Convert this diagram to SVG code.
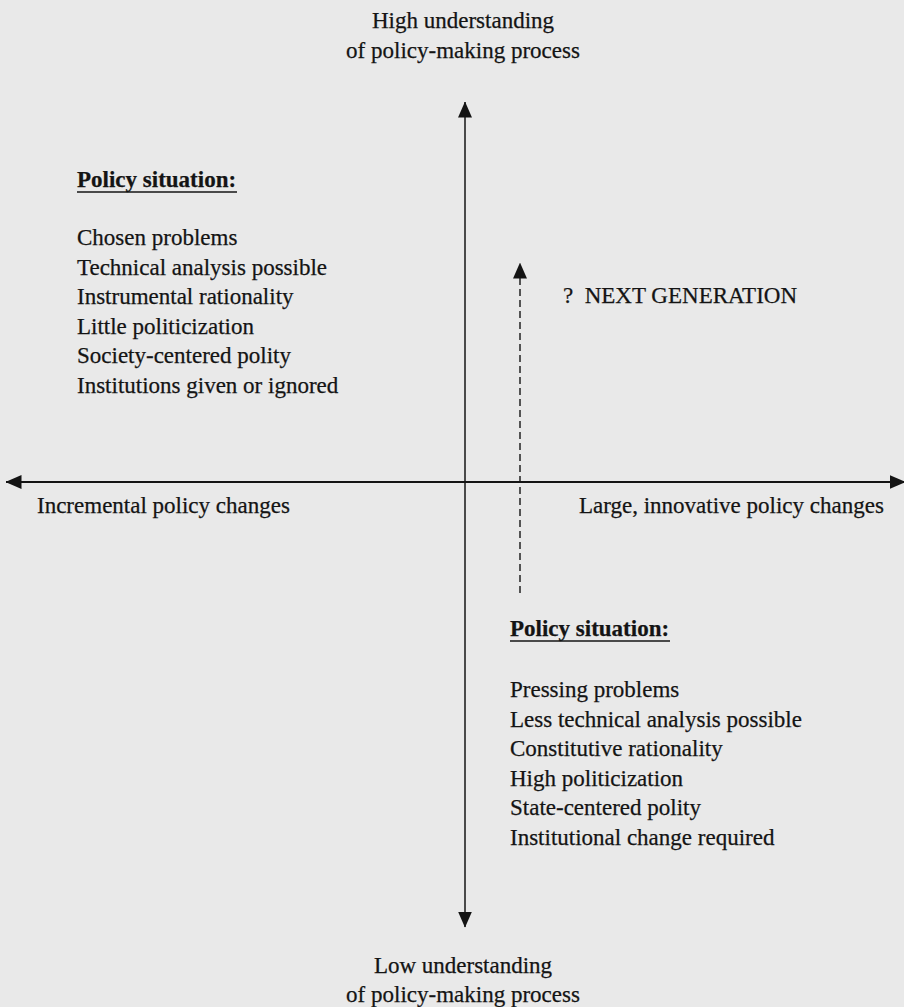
<svg xmlns="http://www.w3.org/2000/svg" width="904" height="1007" viewBox="0 0 904 1007">
<style>
.t{font-family:"Liberation Serif","Times New Roman",serif;font-size:23px;fill:#141414;stroke:#141414;stroke-width:0.25}
.b{font-weight:bold}
.c{text-anchor:middle}
.ax{stroke:#141414;stroke-width:1.5;fill:none}
.axh{stroke:#141414;stroke-width:2;fill:none}
.ul{stroke:#141414;stroke-width:1.6}
.dash{stroke:#141414;stroke-width:1.4;stroke-dasharray:7 4;fill:none}
</style>
<defs>
<marker id="ah" viewBox="0 0 16 14" refX="15.5" refY="7" markerWidth="16" markerHeight="14" markerUnits="userSpaceOnUse" orient="auto">
<path d="M0,0 L16,7 L0,14 Z" fill="#141414"/>
</marker>
</defs>
<rect width="904" height="1007" fill="#e9e9e9"/>
<g id="connectors">
<line class="ax" x1="465" y1="482" x2="465" y2="102" marker-end="url(#ah)"/>
<line class="ax" x1="465" y1="482" x2="465" y2="927" marker-end="url(#ah)"/>
<line class="axh" x1="465" y1="482" x2="6" y2="482" marker-end="url(#ah)"/>
<line class="axh" x1="465" y1="482" x2="905" y2="482" marker-end="url(#ah)"/>
<line class="dash" x1="520" y1="593" x2="520" y2="263" marker-end="url(#ah)"/>
</g>
<g id="label-high">
<text class="t c" x="463" y="28">High understanding</text>
<text class="t c" x="463" y="58">of policy-making process</text>
</g>
<g id="label-low">
<text class="t c" x="463" y="973">Low understanding</text>
<text class="t c" x="463" y="1002">of policy-making process</text>
</g>
<g id="label-incremental">
<text class="t" x="37" y="513">Incremental policy changes</text>
</g>
<g id="label-large">
<text class="t" x="579" y="513">Large, innovative policy changes</text>
</g>
<g id="label-next-generation">
<text class="t" x="563" y="303" xml:space="preserve">?  NEXT GENERATION</text>
</g>
<g id="policy-situation-incremental">
<text class="t b" x="77" y="187">Policy situation:</text>
<line class="ul" x1="77" y1="192" x2="237" y2="192"/>
<text class="t" x="77" y="245">Chosen problems</text>
<text class="t" x="77" y="274.5">Technical analysis possible</text>
<text class="t" x="77" y="304">Instrumental rationality</text>
<text class="t" x="77" y="333.5">Little politicization</text>
<text class="t" x="77" y="363">Society-centered polity</text>
<text class="t" x="77" y="392.5">Institutions given or ignored</text>
</g>
<g id="policy-situation-large">
<text class="t b" x="510" y="636">Policy situation:</text>
<line class="ul" x1="510" y1="641" x2="670" y2="641"/>
<text class="t" x="510" y="697">Pressing problems</text>
<text class="t" x="510" y="726.5">Less technical analysis possible</text>
<text class="t" x="510" y="756">Constitutive rationality</text>
<text class="t" x="510" y="785.5">High politicization</text>
<text class="t" x="510" y="815">State-centered polity</text>
<text class="t" x="510" y="844.5">Institutional change required</text>
</g>
</svg>
